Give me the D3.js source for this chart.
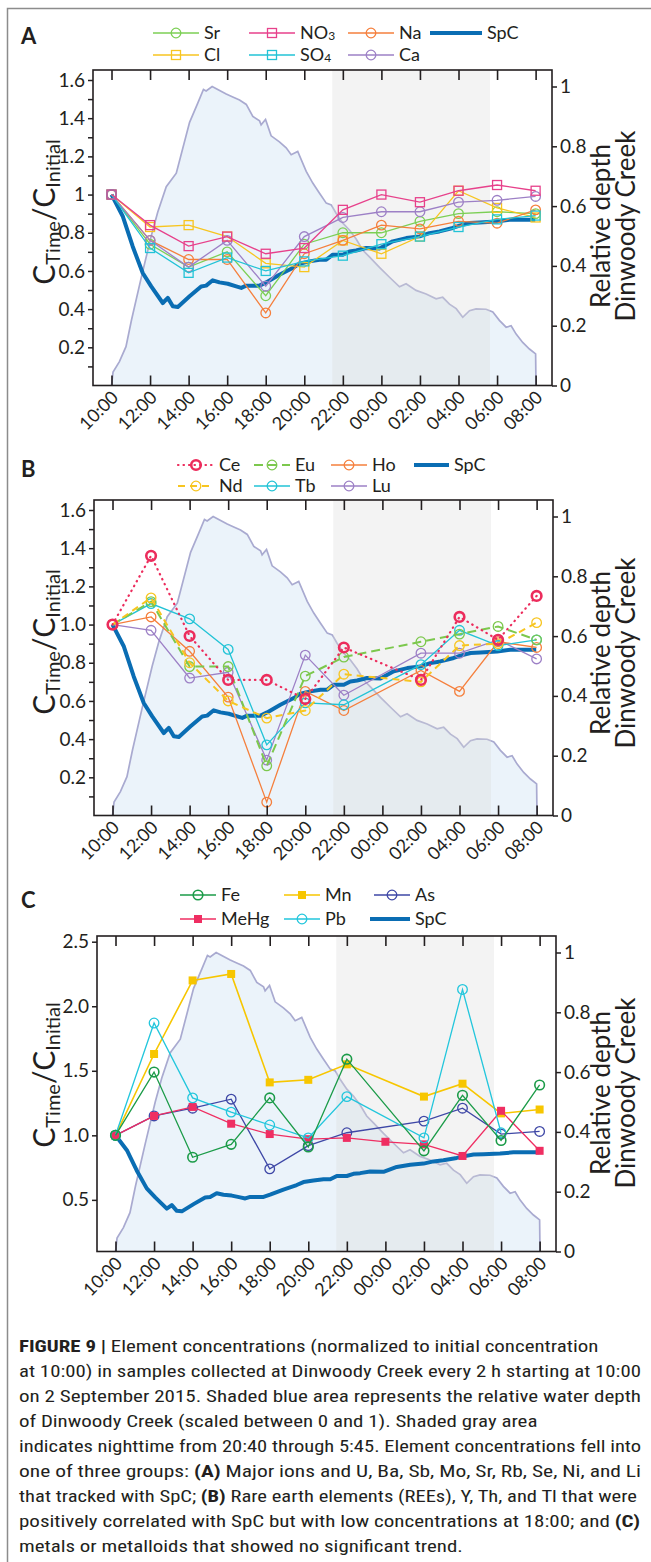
<!DOCTYPE html>
<html><head><meta charset="utf-8">
<script src="https://cdn.jsdelivr.net/npm/d3@7"></script>
<style>
body{margin:0;background:#fff}
svg{display:block}
text{font-family:Lato,"Liberation Sans",sans-serif;fill:#231f20}
.cap{font-family:"Liberation Sans Narrow","Roboto Condensed","Liberation Sans",sans-serif}
</style>
</head><body>
<svg id="c" width="651" height="1562"></svg>
<script>
// ---------------- DATA ----------------
const sampleTimes = ["10:00","12:00","14:00","16:00","18:00","20:00","22:00","00:00","02:00","04:00","06:00","08:00"];
const tickLabels  = ["10:00","12:00","14:00","16:00","18:00","20:00","22:00","00:00","02:00","04:00","06:00","08:00"];
const nightStart = "21:27", nightEnd = "05:38";

// relative depth of Dinwoody Creek (hours after 10:00)
const depthHours = [0,0.08,0.41,0.75,1.04,1.54,2.06,2.40,2.84,3.36,4.05,4.48,4.77,4.91,5.22,5.51,5.95,6.29,6.64,6.99,7.33,7.68,7.76,7.99,8.28,8.71,9.06,9.32,9.66,10.10,10.44,10.79,11.14,11.40,11.65,12.00,12.34,12.69,13.03,13.38,13.90,14.42,14.94,15.28,15.80,16.32,16.84,17.18,17.53,17.88,18.22,18.57,18.91,19.43,19.78,20.12,20.47,20.73,20.99,21.33,21.68,22.00,22.02];
const depthValues = [0,0.045,0.08,0.13,0.22,0.36,0.50,0.58,0.665,0.71,0.88,0.945,0.99,0.985,1.00,0.99,0.975,0.965,0.955,0.94,0.90,0.885,0.872,0.89,0.835,0.815,0.795,0.772,0.783,0.716,0.677,0.643,0.61,0.604,0.576,0.543,0.52,0.49,0.453,0.43,0.395,0.362,0.33,0.34,0.318,0.306,0.29,0.295,0.272,0.257,0.228,0.25,0.256,0.255,0.246,0.218,0.195,0.20,0.172,0.144,0.122,0.106,0];

// specific conductance (normalized)
const spcHours = [0,0.59,1.10,1.62,2.06,2.66,2.92,3.18,3.44,4.05,4.65,4.91,5.25,5.60,6.03,6.47,6.73,6.99,7.68,8.02,8.71,9.40,9.75,10.27,10.79,11.14,11.48,12.00,12.34,12.69,13.21,13.90,14.59,15.29,15.98,16.49,17.01,17.70,18.05,18.57,19.09,19.95,20.64,21.98];
const spcValues = [1.0,0.885,0.728,0.589,0.519,0.432,0.459,0.415,0.411,0.467,0.519,0.523,0.551,0.540,0.533,0.519,0.511,0.523,0.523,0.540,0.580,0.615,0.638,0.650,0.659,0.659,0.685,0.685,0.702,0.707,0.72,0.717,0.755,0.772,0.781,0.798,0.807,0.825,0.837,0.851,0.854,0.859,0.868,0.868];

// Panel A
const srA  = [1.00,0.74,0.62,0.70,0.47,0.74,0.80,0.80,0.86,0.90,0.91,0.90];
const clA  = [1.00,0.83,0.84,0.78,0.64,0.62,0.76,0.69,0.78,1.02,0.93,0.88];
const no3A = [1.00,0.84,0.73,0.78,0.69,0.72,0.92,1.00,0.96,1.02,1.05,1.02];
const so4A = [1.00,0.72,0.59,0.67,0.60,0.65,0.68,0.74,0.78,0.83,0.87,0.89];
const naA  = [1.00,0.76,0.66,0.66,0.38,0.69,0.76,0.84,0.82,0.86,0.85,0.92];
const caA  = [1.00,0.76,0.62,0.76,0.52,0.78,0.88,0.91,0.91,0.96,0.97,0.99];

// Panel B
const ceB = [1.00,1.36,0.94,0.71,0.71,0.61,0.88,null,0.71,1.04,0.92,1.15];
const ndB = [1.00,1.14,0.80,0.60,0.51,0.55,0.74,null,0.70,0.89,0.90,1.01];
const euB = [1.00,1.12,0.78,0.78,0.26,0.73,0.83,null,0.91,0.95,0.99,0.92];
const tbB = [1.00,1.11,1.03,0.87,0.37,0.59,0.58,null,0.79,0.97,0.89,0.92];
const hoB = [1.00,1.04,0.86,0.62,0.07,0.65,0.55,null,0.76,0.65,0.91,0.88];
const luB = [1.00,0.97,0.72,0.75,0.29,0.84,0.63,null,0.85,0.85,0.92,0.82];

// Panel C
const feC   = [1.00,1.49,0.83,0.93,1.29,0.91,1.59,null,0.88,1.31,0.96,1.39];
const mnC   = [1.00,1.63,2.20,2.25,1.41,1.43,1.55,null,1.30,1.40,1.17,1.20];
const asC   = [1.00,1.15,1.21,1.28,0.74,0.92,1.02,null,1.11,1.21,1.01,1.03];
const mehgC = [1.00,1.15,1.22,1.09,1.01,0.97,0.98,0.95,0.93,0.84,1.19,0.88];
const pbC   = [1.00,1.87,1.29,1.18,1.08,0.98,1.30,null,0.98,2.13,1.02,null];

const yTicksAB = [0.2,0.4,0.6,0.8,1.0,1.2,1.4,1.6];
const yLabelsA = ["0.2","0.4","0.6","0.8","1","1.2","1.4","1.6"];
const yLabelsB = ["0.2","0.4","0.6","0.8","1.0","1.2","1.4","1.6"];
const yTicksC  = [0.5,1.0,1.5,2.0,2.5];
const yLabelsC = ["0.5","1.0","1.5","2.0","2.5"];
const rTicks   = [0,0.2,0.4,0.6,0.8,1];
const rLabels  = ["0","0.2","0.4","0.6","0.8","1"];

const captionLines = [
  [["FIGURE 9 |",true],[" Element concentrations (normalized to initial concentration",false]],
  [["at 10:00) in samples collected at Dinwoody Creek every 2 h starting at 10:00",false]],
  [["on 2 September 2015. Shaded blue area represents the relative water depth",false]],
  [["of Dinwoody Creek (scaled between 0 and 1). Shaded gray area",false]],
  [["indicates nighttime from 20:40 through 5:45. Element concentrations fell into",false]],
  [["one of three groups: ",false],["(A)",true],[" Major ions and U, Ba, Sb, Mo, Sr, Rb, Se, Ni, and Li",false]],
  [["that tracked with SpC; ",false],["(B)",true],[" Rare earth elements (REEs), Y, Th, and Tl that were",false]],
  [["positively correlated with SpC but with low concentrations at 18:00; and ",false],["(C)",true]],
  [["metals or metalloids that showed no significant trend.",false]]
];
// widths of the lines that run to the right margin
const captionFullWidths = {1:622,2:622,4:622,5:622,6:618,7:621};

// ---------------- DRAW ----------------
const svg = d3.select("#c");
const hr = t => { const [h,m] = t.split(":").map(Number); return ((h + m/60 - 10) + 24) % 24; };
const W = 459, H = 315.5;
const SPC_COLOR = "#0a6db3";

// frame
svg.append("path").attr("d","M7.5,1562 V8.5 H651").attr("fill","none").attr("stroke","#8c8c8c").attr("stroke-width",1.5);

function marker(g, shape, cx, cy, s) {
  if (shape === "circle") {
    g.append("circle").attr("cx",cx).attr("cy",cy).attr("r",s.r||4.8)
      .attr("fill","none").attr("stroke",s.color).attr("stroke-width",s.mw||1.3);
  } else {
    const a = s.size||9;
    g.append("rect").attr("x",cx-a/2).attr("y",cy-a/2).attr("width",a).attr("height",a)
      .attr("fill", s.filled ? s.color : "none").attr("stroke",s.color).attr("stroke-width",s.filled?0:1.3);
  }
}

function drawPanel(p) {
  const g = svg.append("g");
  const bottom = p.top + H;
  const x = d3.scaleLinear().domain([-0.96, 22.85]).range([p.x0, p.x0 + W]);
  const yL = d3.scaleLinear().domain(p.yDomain).range([bottom, bottom - p.yPix]);
  const yR = d3.scaleLinear().domain([0,1]).range([bottom, bottom - 299]);

  // depth
  const depth = depthHours.map((h,i)=>[h, depthValues[i]]);
  g.append("path").datum(depth)
    .attr("d", d3.area().x(d=>x(d[0])).y0(bottom).y1(d=>yR(d[1])))
    .attr("fill","#9cc3e6").attr("fill-opacity",0.2);
  g.append("path").datum(depth)
    .attr("d", d3.line().x(d=>x(d[0])).y(d=>yR(d[1])))
    .attr("fill","none").attr("stroke","#a9aad0").attr("stroke-width",1.7);
  // night shading (overlay)
  g.append("rect").attr("x",x(hr(nightStart))).attr("y",p.top)
    .attr("width",x(hr(nightEnd)) - x(hr(nightStart))).attr("height",H)
    .attr("fill","rgb(219,219,219)").attr("fill-opacity",0.33);
  // SpC
  const spc = spcHours.map((h,i)=>[h, spcValues[i]]);
  g.append("path").datum(spc)
    .attr("d", d3.line().x(d=>x(d[0])).y(d=>yL(d[1])))
    .attr("fill","none").attr("stroke",SPC_COLOR).attr("stroke-width",4).attr("stroke-linejoin","round");
  // series
  p.series.forEach(s => {
    const pts = sampleTimes.map((t,i)=>[hr(t), s.values[i]]).filter(d=>d[1]!=null);
    const path = g.append("path").datum(pts)
      .attr("d", d3.line().x(d=>x(d[0])).y(d=>yL(d[1])))
      .attr("fill","none").attr("stroke",s.color).attr("stroke-width",s.lw||1.3);
    if (s.dash) path.attr("stroke-dasharray",s.dash).attr("stroke-linecap",s.cap||"butt");
    pts.forEach(d => marker(g, s.shape, x(d[0]), yL(d[1]), s));
  });

  // box
  g.append("rect").attr("x",p.x0).attr("y",p.top).attr("width",W).attr("height",H)
    .attr("fill","none").attr("stroke","#231f20").attr("stroke-width",1.6);

  const tickHours = tickLabels.map(hr);
  const top = g.append("g").attr("transform",`translate(0,${p.top})`)
    .call(d3.axisTop(x).tickValues(tickHours).tickSize(-10).tickFormat(""));
  const bot = g.append("g").attr("transform",`translate(0,${bottom})`)
    .call(d3.axisBottom(x).tickValues(tickHours).tickSize(-10).tickFormat(""));
  [top,bot].forEach(a=>{a.select(".domain").remove(); a.selectAll("line").attr("stroke","#231f20").attr("stroke-width",1.6);});
  tickLabels.forEach(t => {
    g.append("text").attr("text-anchor","end")
      .attr("transform",`translate(${x(hr(t))+8},${bottom+13}) rotate(-45)`)
      .attr("font-size",18).text(t);
  });

  // left axis
  const lmap = new Map(p.yTicks.map((v,i)=>[+v.toFixed(2), p.yLabels[i]]));
  const left = g.append("g").attr("transform",`translate(${p.x0},0)`)
    .call(d3.axisLeft(yL).tickValues(p.yAll).tickSize(5).tickPadding(3)
      .tickFormat(d => lmap.get(+d.toFixed(2)) || ""));
  left.select(".domain").remove();
  left.selectAll("line").attr("stroke","#231f20").attr("stroke-width",1.5);
  left.selectAll("text").attr("font-size",19).attr("font-family","Lato,'Liberation Sans',sans-serif").attr("fill","#231f20");

  // right axis
  const right = g.append("g").attr("transform",`translate(${p.x0+W},0)`)
    .call(d3.axisRight(yR).tickValues(rTicks).tickSize(5).tickPadding(3)
      .tickFormat((d,i)=>rLabels[i]));
  right.select(".domain").remove();
  right.selectAll("line").attr("stroke","#231f20").attr("stroke-width",1.5);
  right.selectAll("text").attr("font-size",19).attr("font-family","Lato,'Liberation Sans',sans-serif").attr("fill","#231f20");

  // left title
  const lt = g.append("text").attr("text-anchor","middle")
    .attr("transform",`translate(55,${p.titleY}) rotate(-90)`);
  lt.append("tspan").attr("font-size",30).text("C");
  lt.append("tspan").attr("font-size",20).attr("dy",5).text("Time");
  lt.append("tspan").attr("font-size",30).attr("dy",-5).text("/");
  lt.append("tspan").attr("font-size",30).text("C");
  lt.append("tspan").attr("font-size",20).attr("dy",5).text("Initial");

  // right title
  [["Relative depth",610],["Dinwoody Creek",635]].forEach(([t,xx])=>{
    g.append("text").attr("text-anchor","middle").attr("font-size",26)
      .attr("transform",`translate(${xx},${p.rTitleY}) rotate(-90)`).text(t);
  });

  // panel letter
  g.append("text").attr("x",21).attr("y",p.letterY).attr("font-size",22).attr("font-weight","bold")
    .attr("font-family","'Liberation Sans',Arial,sans-serif").text(p.letter);

  // legend
  p.legend.forEach(it => {
    const y = p.legendRows[it.row];
    const len = it.len || p.legLen;
    if (it.spc) {
      g.append("line").attr("x1",it.x).attr("x2",it.x+len).attr("y1",y).attr("y2",y)
        .attr("stroke",SPC_COLOR).attr("stroke-width",4);
    } else {
      const s = p.series.find(d=>d.name===it.name);
      const ln = g.append("line").attr("x1",it.x).attr("x2",it.x+len).attr("y1",y).attr("y2",y)
        .attr("stroke",s.color).attr("stroke-width",s.lw||1.3);
      if (s.dash) ln.attr("stroke-dasharray",s.dash).attr("stroke-linecap",s.cap||"butt");
      marker(g, s.shape, it.x+len/2, y, s);
    }
    const tx = g.append("text").attr("x",it.x+len+5).attr("y",y).attr("dy","0.36em").attr("font-size",18);
    if (it.sub) { tx.append("tspan").text(it.label); tx.append("tspan").attr("font-size",12).attr("dy",1).text(it.sub); }
    else tx.text(it.label || it.name);
  });
}

drawPanel({
  letter:"A", letterY:44, top:70, x0:93, yDomain:[0,1.6], yPix:305.5,
  yAll:d3.range(1,17).map(v=>v/10), yTicks:yTicksAB, yLabels:yLabelsA,
  titleY:212, rTitleY:226, legendRows:[33,55], legLen:46,
  series:[
    {name:"Sr", values:srA, color:"#7ccf55", shape:"circle"},
    {name:"Cl", values:clA, color:"#f7c520", shape:"square"},
    {name:"Na", values:naA, color:"#f57f3c", shape:"circle"},
    {name:"Ca", values:caA, color:"#9d80c6", shape:"circle"},
    {name:"SO4", values:so4A, color:"#22c3d6", shape:"square"},
    {name:"NO3", values:no3A, color:"#e7418b", shape:"square"}
  ],
  legend:[
    {name:"Sr", row:0, x:153}, {name:"NO3", label:"NO", sub:"3", row:0, x:249},
    {name:"Na", row:0, x:348}, {spc:true, label:"SpC", row:0, x:430, len:52},
    {name:"Cl", row:1, x:153}, {name:"SO4", label:"SO", sub:"4", row:1, x:249},
    {name:"Ca", row:1, x:348}
  ]
});

drawPanel({
  letter:"B", letterY:477, top:500, x0:94, yDomain:[0,1.6], yPix:305.5,
  yAll:d3.range(1,17).map(v=>v/10), yTicks:yTicksAB, yLabels:yLabelsB,
  titleY:642, rTitleY:653, legendRows:[465,486], legLen:36,
  series:[
    {name:"Lu", values:luB, color:"#9d80c6", shape:"circle"},
    {name:"Ho", values:hoB, color:"#f57f3c", shape:"circle"},
    {name:"Tb", values:tbB, color:"#22c3d6", shape:"circle"},
    {name:"Eu", values:euB, color:"#7cc84d", shape:"circle", dash:"9,5", lw:2},
    {name:"Nd", values:ndB, color:"#f7c520", shape:"circle", dash:"7,5", lw:2},
    {name:"Ce", values:ceB, color:"#ec2c5c", shape:"circle", dash:"0.5,5", cap:"round", lw:2.2, mw:2.6}
  ],
  legend:[
    {name:"Ce", row:0, x:178}, {name:"Eu", row:0, x:254}, {name:"Ho", row:0, x:331},
    {spc:true, label:"SpC", row:0, x:414, len:35},
    {name:"Nd", row:1, x:178}, {name:"Tb", row:1, x:254}, {name:"Lu", row:1, x:331}
  ]
});

drawPanel({
  letter:"C", letterY:908, top:936, x0:97, yDomain:[0.1,2.5], yPix:309.8,
  yAll:yTicksC, yTicks:yTicksC, yLabels:yLabelsC,
  titleY:1075, rTitleY:1093, legendRows:[895,919], legLen:36,
  series:[
    {name:"Mn", values:mnC, color:"#f7c600", shape:"square", filled:true, size:8, lw:1.6},
    {name:"As", values:asC, color:"#3e47a6", shape:"circle"},
    {name:"MeHg", values:mehgC, color:"#ef2e62", shape:"square", filled:true, size:8},
    {name:"Pb", values:pbC, color:"#22c6dc", shape:"circle"},
    {name:"Fe", values:feC, color:"#1b9b48", shape:"circle", mw:1.6}
  ],
  legend:[
    {name:"Fe", row:0, x:180}, {name:"Mn", row:0, x:284}, {name:"As", row:0, x:374},
    {name:"MeHg", row:1, x:180}, {name:"Pb", row:1, x:284},
    {spc:true, label:"SpC", row:1, x:370, len:40}
  ]
});

// caption: full-width lines fitted to the margin; the others get the same compression ratio
const capNodes = captionLines.map((segs,i) => {
  const t = svg.append("text").attr("class","cap").attr("x",19).attr("y",1352 + i*25).attr("font-size",17);
  segs.forEach(([s,b]) => t.append("tspan").attr("font-weight", b ? "bold" : "normal").text(s));
  return t;
});
const natural = capNodes.map(n => n.node().getComputedTextLength());
const ratio = d3.median(Object.entries(captionFullWidths).map(([i,w]) => w / natural[+i]));
capNodes.forEach((n,i) => {
  const w = captionFullWidths[i] !== undefined ? captionFullWidths[i] : natural[i]*ratio;
  n.attr("textLength", w).attr("lengthAdjust","spacingAndGlyphs");
});
</script>
</body></html>
